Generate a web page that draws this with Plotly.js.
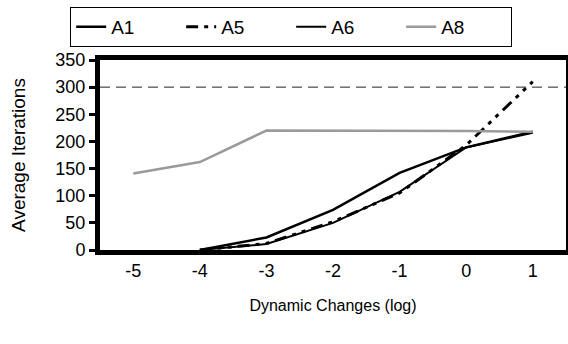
<!DOCTYPE html>
<html>
<head>
<meta charset="utf-8">
<script src="https://cdn.plot.ly/plotly-3.0.1.min.js"></script>
<style>html,body{margin:0;padding:0;background:#fff;}#chart{width:568px;height:344px;}</style>
</head>
<body>
<div id="chart"></div>
<script>
const xCats = [-5, -4, -3, -2, -1, 0, 1];
const a1 = [null, 0, 23, 74, 142, 189, 218];
const a5 = [null, 0, 12, 52, 105, 193, 310];
const a6 = [null, 0, 11, 50, 107, 189, 216];
const a8 = [141, 162, 220, 220, 220, 219, 218];
const refLine = 300;
const yTicks = [0, 50, 100, 150, 200, 250, 300, 350];

const traces = [
  {x: xCats, y: a1, name: 'A1', mode: 'lines', line: {color: '#000', width: 2.5}},
  {x: xCats, y: a5, name: 'A5', mode: 'lines', line: {color: '#000', width: 3, dash: '12px,6px,4px,6px,4px,6px'}},
  {x: xCats, y: a6, name: 'A6', mode: 'lines', line: {color: '#000', width: 2}},
  {x: xCats, y: a8, name: 'A8', mode: 'lines', line: {color: '#9a9a9a', width: 2.5}}
];

const layout = {
  width: 568, height: 344,
  margin: {l: 100, r: 2, t: 60, b: 94},
  paper_bgcolor: '#fff', plot_bgcolor: '#fff',
  font: {family: 'Liberation Sans, Arial, sans-serif', color: '#000', size: 17},
  showlegend: true,
  legend: {orientation: 'h', x: -0.064, y: 1.28, xanchor: 'left', yanchor: 'top',
    bordercolor: '#000', borderwidth: 1, bgcolor: '#fff', font: {size: 19},
    entrywidth: 65, entrywidthmode: 'pixels', tracegroupgap: 0},
  xaxis: {
    range: [-5.5, 1.5], tickvals: xCats, ticktext: xCats.map(String),
    showgrid: false, zeroline: false, showline: true, linecolor: '#000', linewidth: 5,
    mirror: true, ticks: '', tickfont: {size: 18},
    title: {text: 'Dynamic Changes (log)', font: {size: 16}, standoff: 22}
  },
  yaxis: {
    range: [0, 350], tickvals: yTicks, showgrid: false, zeroline: false,
    showline: true, linecolor: '#000', linewidth: 5, mirror: true,
    ticks: 'outside', ticklen: 6, tickwidth: 3, tickcolor: '#000', tickfont: {size: 18},
    title: {text: 'Average Iterations', font: {size: 19}, standoff: 26}
  },
  shapes: [{type: 'line', xref: 'paper', x0: 0, x1: 1, yref: 'y', y0: refLine, y1: refLine,
    line: {color: '#222', width: 1, dash: '10px,6px'}}]
};

Plotly.newPlot('chart', traces, layout, {displayModeBar: false, staticPlot: true});
</script>
</body>
</html>
